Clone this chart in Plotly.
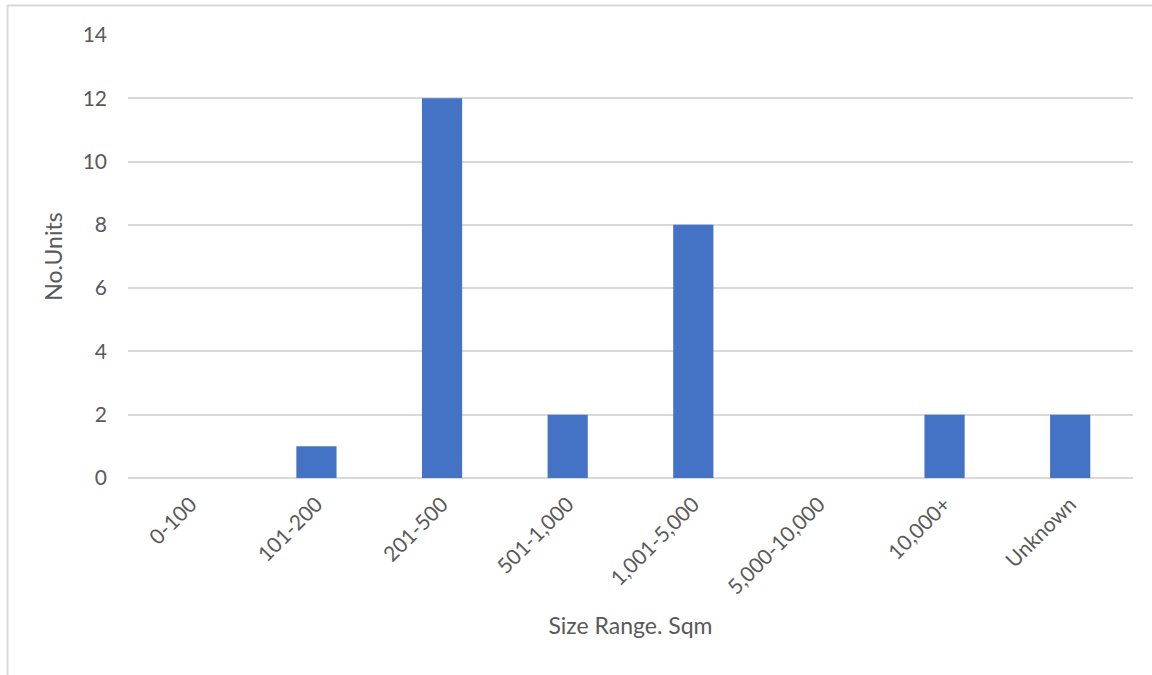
import plotly.graph_objects as go

categories = ["0-100", "101-200", "201-500", "501-1,000", "1,001-5,000", "5,000-10,000", "10,000+", "Unknown"]
units = [0, 1, 12, 2, 8, 0, 2, 2]
y_ticks = [0, 2, 4, 6, 8, 10, 12, 14]

L, R, T, B = 128, 19, 35, 197
W, H = 1152, 675
pw, ph = W - L - R, H - T - B

fig = go.Figure(go.Bar(x=categories, y=units, marker=dict(color="#4472c4", line=dict(width=0))))

font = "Lato, Open Sans, sans-serif"
fig.update_layout(
    width=W, height=H,
    margin=dict(l=L, r=R, t=T, b=B),
    paper_bgcolor="white", plot_bgcolor="white",
    bargap=0.68,
    showlegend=False,
    font=dict(family=font, color="#595959", size=21),
)
fig.update_yaxes(
    range=[0, 14], tickvals=y_ticks, showgrid=True, gridcolor="#d9d9d9", gridwidth=1.5,
    zeroline=True, zerolinecolor="#d9d9d9", zerolinewidth=1.5, showline=False,
    ticks="", ticklabelstandoff=20,
    title=dict(text="No.Units", font=dict(size=23, color="#595959"), standoff=13),
)
fig.update_xaxes(
    tickangle=-45, showgrid=False, showline=False, ticks="", ticklabelstandoff=9,
    title=dict(text="Size Range. Sqm", font=dict(size=23, color="#595959"), standoff=20),
)

# outer chart border (light gray) as in the original
x0 = (7.5 - L) / pw
x1 = (W + 10 - L) / pw
ytop = (H - B - 5.5) / ph
ybot = (H - B - (H + 10)) / ph
fig.add_shape(type="rect", xref="paper", yref="paper", x0=x0, x1=x1, y0=ybot, y1=ytop,
              line=dict(color="#d9d9d9", width=2), fillcolor="rgba(0,0,0,0)", layer="below")

fig.write_html("out.html", config={"displayModeBar": False},
               post_script="document.body.style.margin='0';document.body.style.overflow='hidden';")
